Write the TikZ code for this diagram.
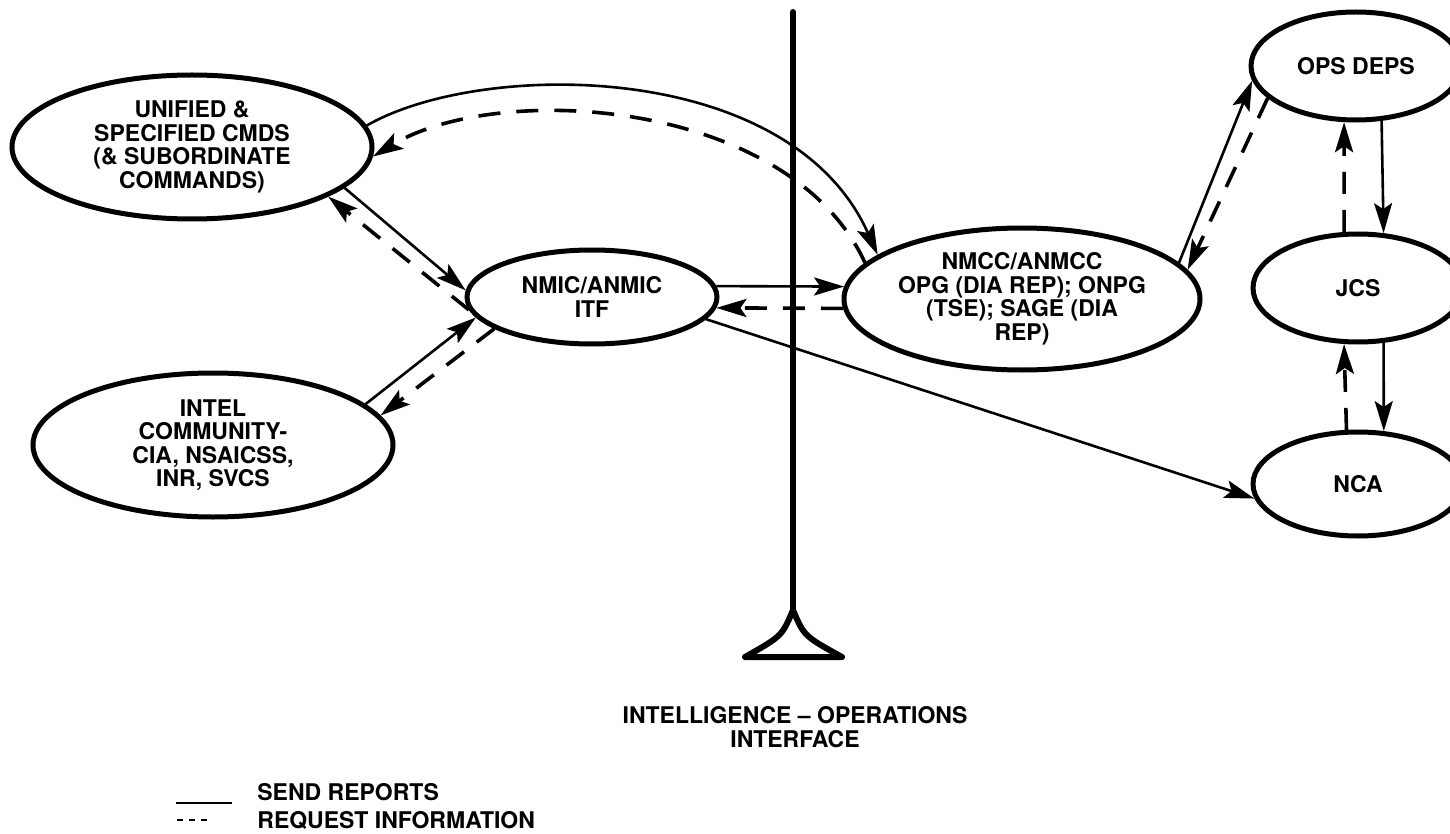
\documentclass[tikz,border=0pt]{standalone}
\usepackage{fontspec}
\setmainfont{TeX Gyre Heros}
\usetikzlibrary{shapes.geometric,arrows.meta}
\begin{document}
\begin{tikzpicture}[x=0.5pt,y=-0.5pt,
  every node/.style={font=\fontsize{11.5}{11.75}\selectfont\bfseries},
  ell/.style={ellipse,draw,line width=2.5pt,inner sep=0pt,align=center},
  rep/.style={line width=1.3pt,-{Stealth[length=15pt,width=9pt,inset=3pt]}},
  req/.style={line width=1.8pt,dash pattern=on 11pt off 8pt,-{Stealth[length=15pt,width=9pt,inset=3pt]}},
  lbl/.style={align=center,inner sep=0pt},
  wall/.style={line width=3pt}]
\useasboundingbox (0,0) rectangle (1450,834);

% interface line
\coordinate (ltop) at (793,12);
\coordinate (ljoin) at (793,610);
\coordinate (lbl) at (745,657);
\coordinate (lbr) at (842,657);
\draw[wall,line cap=round] (ltop) -- (ljoin);
\draw[wall,line join=round,line cap=round] (ljoin) .. controls (782,636) .. (lbl) -- (lbr) .. controls (804,636) .. (ljoin);

% nodes
\node[ell,minimum width=180pt,minimum height=72pt] (uni) at (192,147) {UNIFIED \&\\SPECIFIED CMDS\\(\& SUBORDINATE\\COMMANDS)};
\node[ell,minimum width=125pt,minimum height=47pt] (nmic) at (592,297) {NMIC/ANMIC\\ITF};
\node[ell,minimum width=178pt,minimum height=71pt] (nmcc) at (1022,299) {NMCC/ANMCC\\OPG (DIA REP); ONPG\\(TSE); SAGE (DIA\\REP)};
\node[ell,minimum width=180pt,minimum height=72pt] (intel) at (213,445) {INTEL\\COMMUNITY-\\CIA, NSAICSS,\\INR, SVCS};
\node[ell,minimum width=105pt,minimum height=54pt] (ops) at (1356,66) {OPS DEPS};
\node[ell,minimum width=105pt,minimum height=54pt] (jcs) at (1358,288) {JCS};
\node[ell,minimum width=105pt,minimum height=52pt] (nca) at (1358,484) {NCA};

% connectors
\draw[rep] (uni.7) .. controls (480,60) and (790,58) .. (nmcc.163);
\draw[req] (nmcc.167) .. controls (790,100) and (500,80) .. (uni.-3);
\draw[rep] (uni.-15) -- (nmic.177);
\draw[req] (nmic.186) -- (uni.-20);
\draw[rep] (intel.15) -- (nmic.190);
\draw[req] (nmic.198) -- (intel.10);
\draw[rep] (nmic.5) -- (nmcc.176);
\draw[req] (nmcc.183) -- (nmic.-5);
\draw[rep] (nmic.-11) -- (nca.188);
\draw[rep] (nmcc.13) -- (ops.188);
\draw[req] (ops.200) -- (nmcc.10);
\draw[rep] (ops.-65) -- (jcs.65);
\draw[req] (jcs.104) -- (ops.-102);
\draw[rep] (jcs.-65) -- (nca.64);
\draw[req] (nca.102) -- (jcs.-104);

% interface label
\node[lbl] (ifl) at (795,727) {INTELLIGENCE \textendash{} OPERATIONS\\INTERFACE};

% legend
\coordinate (s1) at (176,803);
\coordinate (s2) at (232,803);
\draw[line width=1.2pt] (s1) -- (s2);
\coordinate (d1) at (177,820);
\coordinate (d2) at (208,820);
\draw[line width=1.2pt,dash pattern=on 3pt off 3pt] (d1) -- (d2);
\node[anchor=base west,inner sep=0pt] (lg1) at (257,800) {SEND REPORTS};
\node[anchor=base west,inner sep=0pt] (lg2) at (257,828) {REQUEST INFORMATION};
\end{tikzpicture}
\end{document}
